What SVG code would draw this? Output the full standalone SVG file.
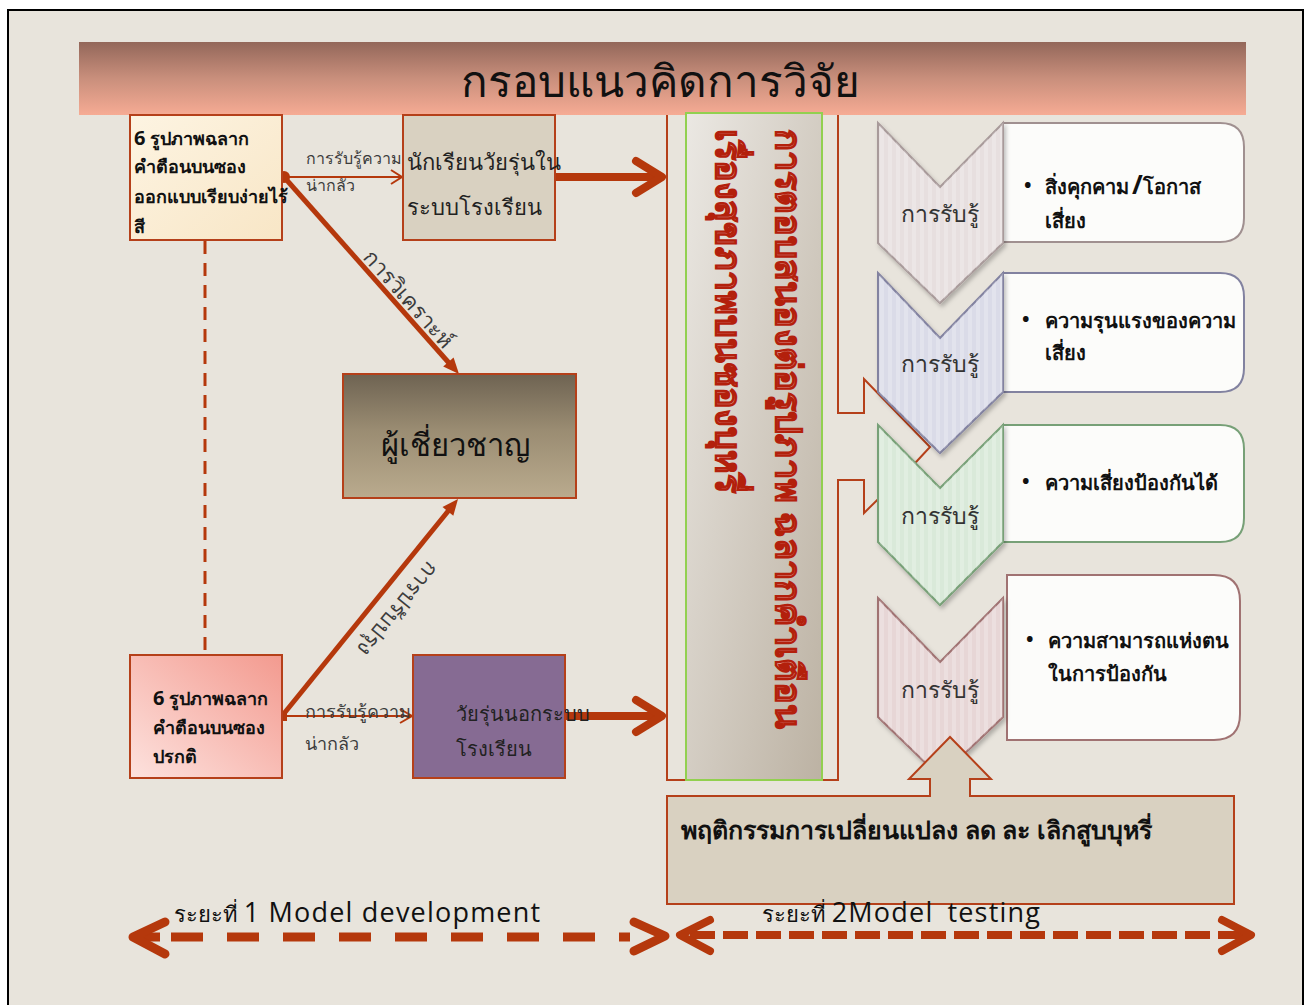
<svg xmlns="http://www.w3.org/2000/svg" width="1313" height="1005" viewBox="0 0 1313 1005">
<defs>
<linearGradient id="gBanner" x1="0" y1="0" x2="0" y2="1">
<stop offset="0" stop-color="#93675a"/><stop offset="0.5" stop-color="#c98f7c"/><stop offset="1" stop-color="#f6ab94"/>
</linearGradient>
<linearGradient id="gCream" x1="0" y1="0" x2="1" y2="1">
<stop offset="0" stop-color="#fdf4e2"/><stop offset="1" stop-color="#f8e6c6"/>
</linearGradient>
<linearGradient id="gPink" x1="0" y1="1" x2="1" y2="0">
<stop offset="0" stop-color="#fde2de"/><stop offset="1" stop-color="#f39a8f"/>
</linearGradient>
<linearGradient id="gExpert" x1="0" y1="0" x2="0" y2="1">
<stop offset="0" stop-color="#6e6352"/><stop offset="0.45" stop-color="#9a8c72"/><stop offset="1" stop-color="#baab8e"/>
</linearGradient>
<linearGradient id="gCenter" x1="0" y1="0" x2="1" y2="1">
<stop offset="0" stop-color="#ebe8e3"/><stop offset="1" stop-color="#bcb2a3"/>
</linearGradient>
<pattern id="stripes" width="8" height="10" patternUnits="userSpaceOnUse">
<rect width="4" height="10" fill="#ffffff" fill-opacity="0.22"/>
</pattern>
<filter id="sh" x="-10%" y="-10%" width="130%" height="130%">
<feDropShadow dx="2" dy="3" stdDeviation="2" flood-color="#000" flood-opacity="0.25"/>
</filter>
</defs>
<style>
.th{font-family:"Noto Sans",sans-serif}
.bold{font-family:"Noto Sans",sans-serif;font-weight:bold;fill:#111}
.box{stroke:#b5401a;stroke-width:2}
.lbl{font-family:"Noto Sans",sans-serif;fill:#3c3c3c}
.wa{font-family:"Noto Sans",sans-serif;font-weight:bold;font-size:36px;fill:#e6a69a;stroke:#b3200c;stroke-width:1.3}
.conn{stroke:#b5380c;fill:none}
.chevl{font-family:"Noto Sans",sans-serif;font-size:23px;fill:#333;text-anchor:middle}
.en{font-family:"Open Sans",sans-serif;fill:#111;font-size:27px;letter-spacing:1.2px}
</style>
<rect x="0" y="0" width="1313" height="1005" fill="#ffffff"/>
<rect x="8" y="10" width="1295" height="1000" fill="#e8e4dc" stroke="#000" stroke-width="2"/>

<g id="center-frame">
<path d="M667,112 L838,112 L838,413 L864,413 L864,379 L930,447 L917,461 L864,513 L864,480 L838,480 L838,780 L667,780 Z" fill="none" stroke="#b5401a" stroke-width="2"/>
</g>

<g id="banner">
<rect x="79" y="42" width="1167" height="73" fill="url(#gBanner)"/>
<text class="th" x="660" y="97" font-size="44" text-anchor="middle" fill="#111">กรอบแนวคิดการวิจัย</text>
</g>

<g id="center-box">
<rect x="686" y="113" width="136" height="667" fill="url(#gCenter)" stroke="#92d050" stroke-width="2"/>
<text class="wa" transform="translate(776,129) rotate(90)" textLength="600" lengthAdjust="spacingAndGlyphs">การตอบสนองต่อรูปภาพ ฉลากคำเตือน</text>
<text class="wa" transform="translate(716,129) rotate(90)">เรื่องสุขภาพบนซองบุหรี่</text>
</g>

<g id="connectors">
<line x1="205" y1="241" x2="205" y2="654" class="conn" stroke-width="3" stroke-dasharray="13 9"/>
<line x1="286" y1="177" x2="401" y2="177" class="conn" stroke-width="2"/>
<polyline points="391,170 402,177 391,184" class="conn" stroke-width="2"/>
<line x1="287" y1="716" x2="411" y2="716" class="conn" stroke-width="2"/>
<polyline points="400,709 412,716 400,723" class="conn" stroke-width="2"/>
<circle cx="284" cy="177" r="6" fill="#b5380c"/>
<line x1="284" y1="177" x2="449" y2="363" class="conn" stroke-width="5"/>
<polygon points="459,374 453.6,357.4 443.2,366.6" fill="#b5380c"/>
<rect x="277" y="711" width="10" height="10" fill="#b5380c"/>
<line x1="282" y1="716" x2="449" y2="510" class="conn" stroke-width="5"/>
<polygon points="458,499 453.3,515.8 442.5,507" fill="#b5380c"/>
<line x1="555" y1="177" x2="660" y2="177" class="conn" stroke-width="8"/>
<polyline points="636,161 662,177 636,193" class="conn" stroke-width="8" stroke-linecap="round" stroke-linejoin="round"/>
<line x1="565" y1="716" x2="660" y2="716" class="conn" stroke-width="8"/>
<polyline points="636,700 662,716 636,732" class="conn" stroke-width="8" stroke-linecap="round" stroke-linejoin="round"/>
<text class="lbl" x="306" y="164" font-size="16">การรับรู้ความ</text>
<text class="lbl" x="306" y="191" font-size="16">น่ากลัว</text>
<text class="lbl" x="305" y="718" font-size="18">การรับรู้ความ</text>
<text class="lbl" x="305" y="750" font-size="18">น่ากลัว</text>
<text class="lbl" transform="translate(362,258) rotate(48.4)" font-size="22" fill="#111">การวิเคราะห์</text>
<text class="lbl" transform="translate(428,560) rotate(129.2)" font-size="22" fill="#111">การปรับปรุง</text>
</g>

<g id="box-simple">
<rect x="130" y="115" width="152" height="125" fill="url(#gCream)" class="box"/>
<text class="bold" font-size="18"><tspan x="134" y="145"><tspan font-size="20">6</tspan> รูปภาพฉลาก</tspan><tspan x="134" y="173">คำตือนบนซอง</tspan><tspan x="134" y="203">ออกแบบเรียบง่ายไร้</tspan><tspan x="134" y="233">สี</tspan></text>
</g>

<g id="box-school">
<rect x="403" y="115" width="152" height="125" fill="#d9d1c1" class="box"/>
<text class="th" font-size="22" fill="#222"><tspan x="407" y="170">นักเรียนวัยรุ่นใน</tspan><tspan x="407" y="215">ระบบโรงเรียน</tspan></text>
</g>

<g id="box-expert">
<rect x="343" y="374" width="233" height="124" fill="url(#gExpert)" class="box"/>
<text class="th" x="455" y="456" font-size="31" text-anchor="middle" fill="#111">ผู้เชี่ยวชาญ</text>
</g>

<g id="box-normal">
<rect x="130" y="655" width="152" height="123" fill="url(#gPink)" class="box"/>
<text class="bold" font-size="18"><tspan x="153" y="705"><tspan font-size="20">6</tspan> รูปภาพฉลาก</tspan><tspan x="153" y="734">คำตือนบนซอง</tspan><tspan x="153" y="763">ปรกติ</tspan></text>
</g>

<g id="box-outschool">
<rect x="413" y="655" width="152" height="123" fill="#866b93" class="box"/>
<text class="th" font-size="20" fill="#222"><tspan x="456" y="721">วัยรุ่นนอกระบบ</tspan><tspan x="456" y="756">โรงเรียน</tspan></text>
</g>

<g id="perc1">
<path d="M1003,123 L1220,123 Q1244,123 1244,147 L1244,218 Q1244,242 1220,242 L1003,242 Z" fill="#fcfcfa" stroke="#a09090" stroke-width="2"/>
<polygon points="878,123 940,187 1003,123 1003,243 940,303 878,243" fill="#e7dfdf" stroke="#a89a9a" stroke-width="2" filter="url(#sh)"/>
<polygon points="878,123 940,187 1003,123 1003,243 940,303 878,243" fill="url(#stripes)"/>
<text class="chevl" x="940" y="222">การรับรู้</text>
<text class="bold" font-size="20"><tspan x="1024" y="192">•</tspan><tspan x="1045" y="194">สิ่งคุกคาม</tspan><tspan font-size="26" dx="3">/</tspan><tspan>โอกาส</tspan><tspan x="1045" y="228">เสี่ยง</tspan></text>
</g>

<g id="perc2">
<path d="M1003,273 L1220,273 Q1244,273 1244,297 L1244,368 Q1244,392 1220,392 L1003,392 Z" fill="#fcfcfa" stroke="#8282a0" stroke-width="2"/>
<polygon points="878,273 940,338 1003,273 1003,392 940,453 878,392" fill="#dadbe8" stroke="#8282a0" stroke-width="2" filter="url(#sh)"/>
<polygon points="878,273 940,338 1003,273 1003,392 940,453 878,392" fill="url(#stripes)"/>
<text class="chevl" x="940" y="372">การรับรู้</text>
<text class="bold" font-size="20"><tspan x="1022" y="326">•</tspan><tspan x="1045" y="328">ความรุนแรงของความ</tspan><tspan x="1045" y="360">เสี่ยง</tspan></text>
</g>

<g id="perc3">
<path d="M1003,425 L1220,425 Q1244,425 1244,449 L1244,518 Q1244,542 1220,542 L1003,542 Z" fill="#fcfcfa" stroke="#77a077" stroke-width="2"/>
<polygon points="878,425 940,488 1003,425 1003,542 940,605 878,542" fill="#d9e9d9" stroke="#77a077" stroke-width="2" filter="url(#sh)"/>
<polygon points="878,425 940,488 1003,425 1003,542 940,605 878,542" fill="url(#stripes)"/>
<text class="chevl" x="940" y="524">การรับรู้</text>
<text class="bold" font-size="20"><tspan x="1022" y="488">•</tspan><tspan x="1045" y="490">ความเสี่ยงป้องกันได้</tspan></text>
</g>

<g id="perc4">
<path d="M1007,575 L1214,575 Q1240,575 1240,601 L1240,714 Q1240,740 1214,740 L1007,740 Z" fill="#fcfcfa" stroke="#a07272" stroke-width="2"/>
<polygon points="878,598 940,662 1003,598 1003,717 940,777 878,717" fill="#e7d6d6" stroke="#a07272" stroke-width="2" filter="url(#sh)"/>
<polygon points="878,598 940,662 1003,598 1003,717 940,777 878,717" fill="url(#stripes)"/>
<text class="chevl" x="940" y="698">การรับรู้</text>
<text class="bold" font-size="20"><tspan x="1026" y="646">•</tspan><tspan x="1048" y="648">ความสามารถแห่งตน</tspan><tspan x="1048" y="681">ในการป้องกัน</tspan></text>
</g>

<g id="behaviour">
<path d="M667,796 L930,796 L930,779 L909,779 L950,737 L991,779 L970,779 L970,796 L1234,796 L1234,904 L667,904 Z" fill="#d9d1c1" stroke="#b5401a" stroke-width="2"/>
<text class="bold" x="681" y="839" font-size="25">พฤติกรรมการเปลี่ยนแปลง ลด ละ เลิกสูบบุหรี่</text>
</g>

<g id="phase1">
<line x1="171" y1="937" x2="630" y2="937" class="conn" stroke-width="9" stroke-dasharray="32 24"/>
<line x1="135" y1="937" x2="160" y2="937" class="conn" stroke-width="9"/>
<polyline points="165,922 133,937 165,954" class="conn" stroke-width="9" stroke-linecap="round" stroke-linejoin="round"/>
<polyline points="634,922 665,936 634,951" class="conn" stroke-width="9" stroke-linecap="round" stroke-linejoin="round"/>
<text x="174" y="922"><tspan class="th" font-size="22" fill="#111">ระยะที่ </tspan><tspan class="en">1 Model development</tspan></text>
</g>

<g id="phase2">
<line x1="690" y1="935" x2="1244" y2="935" class="conn" stroke-width="8" stroke-dasharray="25 8"/>
<polyline points="710,920 680,935 710,951" class="conn" stroke-width="8" stroke-linecap="round" stroke-linejoin="round"/>
<polyline points="1222,920 1251,935 1222,951" class="conn" stroke-width="8" stroke-linecap="round" stroke-linejoin="round"/>
<text x="762" y="922"><tspan class="th" font-size="22" fill="#111">ระยะที่ </tspan><tspan class="en">2Model</tspan><tspan class="en" dx="14">testing</tspan></text>
</g>
</svg>
